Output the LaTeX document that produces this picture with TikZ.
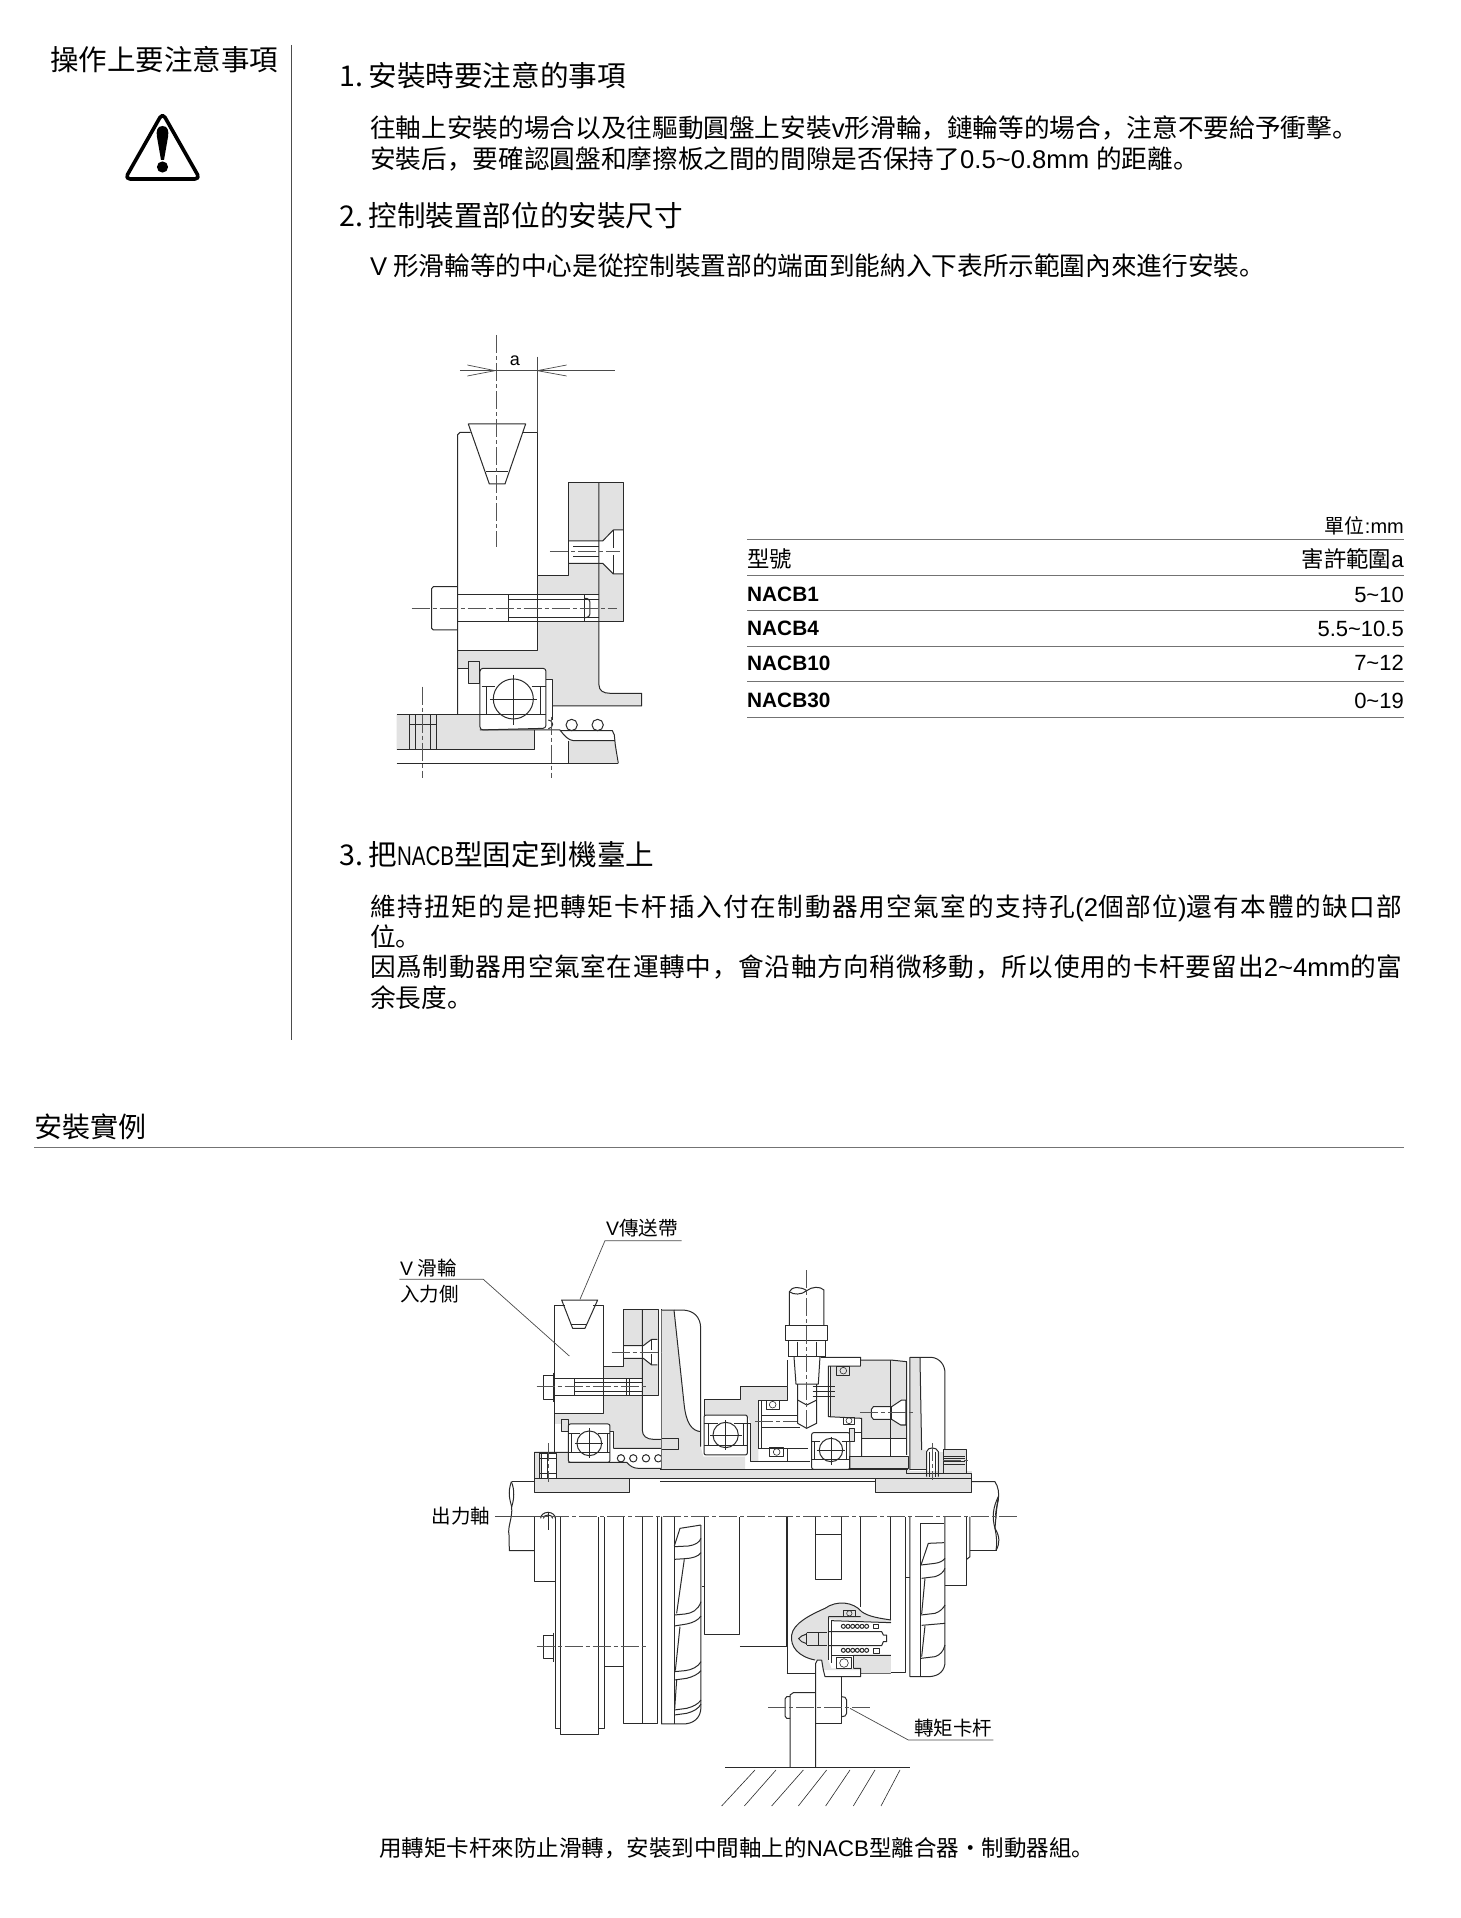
\documentclass[tikz,border=0pt]{standalone}
\usepackage{fontspec}
\setmainfont{Liberation Sans}
\newfontfamily\zh{Noto Sans CJK SC}
\usetikzlibrary{positioning}
\newcommand{\lat}[1]{{\rmfamily #1}}
\definecolor{inkline}{HTML}{2a2a2a}
\definecolor{partgray}{HTML}{e2e2e2}
\tikzset{
  fig one/.style={shift={(380,320)},x=.3333pt,y=-.3333pt},
  fig left/.style={shift={(380,1200)},x=.3333pt,y=-.3333pt},
  fig right/.style={shift={(660,1260)},x=.3333pt,y=-.3333pt},
  fig low/.style={shift={(500,1500)},x=.3333pt,y=-.3333pt},
  fig arm/.style={shift={(740,1500)},x=.3333pt,y=-.3333pt}
}
\begin{document}
\begin{tikzpicture}[x=1pt,y=-1pt,line join=round,
  part/.style={draw=inkline,line width=1pt},
  fine/.style={draw=inkline,line width=.6pt},
  shade/.style={fill=partgray},
  axis line/.style={draw=inkline!80,line width=.6pt,dash pattern=on 18pt off 3pt on 4pt off 3pt},
  leader/.style={draw=inkline!85,line width=.7pt},
  rule/.style={draw=black!55,line width=1pt},
  head text/.style={anchor=west,inner sep=0pt,font=\zh\fontsize{28.6}{30}\selectfont},
  body text/.style={anchor=west,inner sep=0pt,font=\zh\fontsize{25.65}{28}\selectfont},
  cell text/.style={anchor=west,inner sep=0pt,font=\zh\fontsize{22.4}{24}\selectfont},
  num text/.style={anchor=east,inner sep=0pt,font=\fontsize{22}{24}\selectfont},
  bold text/.style={anchor=west,inner sep=0pt,font=\bfseries\fontsize{20.8}{22}\selectfont},
  call text/.style={anchor=west,inner sep=0pt,font=\zh\fontsize{19.5}{22}\selectfont}]
  \useasboundingbox (0,0) rectangle (1460,1918);
  \fill[white] (0,0) rectangle (1460,1918);

  % left column
  \node[head text,font=\zh\fontsize{28.5}{30}\selectfont] (caution) at (50,60) {操作上要注意事項};
  \draw[rule,draw=black!70] (291,45) -- (291,1040);
  \draw[draw=black,line width=3.6pt,rounded corners=5pt] (162.5,113) -- (125,179) -- (200,179) -- cycle;
  \fill (162.5,126) .. controls (157,126) and (156,131) .. (157,137) -- (161,160) -- (164,160) -- (168,137) .. controls (169,131) and (168,126) .. (162.5,126) -- cycle;
  \fill (162.5,167) circle (5.6pt);

  % text
  \node[head text] (title1) at (339,76) {1.\hspace*{5.5pt}\zh 安裝時要注意的事項};
  \node[body text] (text1a) at (370,127.5) {往軸上安裝的場合以及往驅動圓盤上安裝\lat{v}形滑輪，鏈輪等的場合，注意不要給予衝擊。};
  \node[body text] (text1b) at (370,159) {安裝后，要確認圓盤和摩擦板之間的間隙是否保持了\lat{0.5\raisebox{.5pt}{\textasciitilde}0.8mm }的距離。};
  \node[head text] (title2) at (339,216) {2.\hspace*{5.5pt}\zh 控制裝置部位的安裝尺寸};
  \node[body text] (text2) at (370,266) {\lat{V} 形滑輪等的中心是從控制裝置部的端面到能納入下表所示範圍內來進行安裝。};
  \node[head text] (title3) at (339,854.5) {3.\hspace*{5.5pt}\zh 把\scalebox{.76}[1]{\rmfamily\fontsize{27}{28}\selectfont NACB}型固定到機臺上};
  \node[body text] (text3a) at (370,908.5) {\addfontfeature{LetterSpace=5.95}維持扭矩的是把轉矩卡杆插入付在制動器用空氣室的支持孔\lat{(2}個部位\lat{)}還有本體的缺口部};
  \node[body text] (text3b) at (370,936.5) {位。};
  \node[body text] (text3c) at (370,967) {\addfontfeature{LetterSpace=2.55}因爲制動器用空氣室在運轉中，會沿軸方向稍微移動，所以使用的卡杆要留出\lat{2\raisebox{.5pt}{\textasciitilde}4mm}的富};
  \node[body text] (text3d) at (370,998) {余長度。};

  % table
  \node[num text,font=\zh\fontsize{20}{22}\selectfont] (unit) at (1404,525.6) {單位\lat{:mm}};
  \node[cell text] (model) at (747,558.8) {型號};
  \node[num text,font=\zh\fontsize{22.4}{24}\selectfont] (range) at (1404,558.8) {害許範圍\lat{a}};
  \foreach \y/\name/\val in {594.8/NACB1/5\textasciitilde10,628.6/NACB4/5.5\textasciitilde10.5,663/NACB10/7\textasciitilde12,700.6/NACB30/0\textasciitilde19}{
    \node[bold text] (m\name) at (747,\y) {\name};
    \node[num text] (v\name) at (1404,\y) {\val};
  }
  \foreach \y in {539.3,575,610,646,681,717}
    \draw[rule] (747,\y) -- (1404,\y);

  % first drawing
  \begin{scope}[fig one]
    \fill[shade] (472,767) -- (565,767) -- (565,487) -- (732,487) -- (732,905) -- (657,905) -- (657,1095) .. controls (657,1112) and (670,1120) .. (690,1120) -- (785,1120) -- (785,1158) -- (518,1158) -- (518,1078) -- (498,1078) -- (498,1045) -- (233,1045) -- (233,992) -- (472,992) -- cycle;
    \fill[shade] (50,1183) -- (300,1183) -- (300,1230) -- (463,1230) -- (463,1290) -- (50,1290) -- cycle;
    \fill[shade] (567,1262) -- (705,1262) -- (712,1330) -- (567,1330) -- cycle;
    \fill[shade] (265,1025) rectangle (300,1090);
    \fill[white] (567,663) -- (668,663) -- (700,630) -- (730,630) -- (730,762) -- (700,762) -- (668,730) -- (567,730) -- cycle;
    \fill[white] (472,825) rectangle (657,905);
    \fill[white] (657,838) rectangle (615,893);
    % pulley and belt
    \draw[part] (272,337) -- (240,337) -- (233,344) -- (233,1183);
    \draw[part] (430,337) -- (472,337) -- (472,767) -- (565,767) -- (565,487) -- (732,487) -- (732,905) -- (233,905);
    \draw[part] (472,767) -- (472,992) -- (233,992);
    \draw[part] (265,312) -- (437,312) -- (375,492) -- (328,492) -- cycle;
    \draw[part] (318,455) -- (385,455);
    % flange
    \draw[part] (657,487) -- (657,1095) .. controls (657,1112) and (670,1120) .. (690,1120) -- (785,1120) -- (785,1158) -- (518,1158);
    % countersunk screw
    \draw[part] (567,663) -- (668,663) -- (700,630) -- (730,630);
    \draw[part] (567,730) -- (668,730) -- (700,762) -- (730,762);
    \draw[part] (567,660) -- (567,732);
    \draw[part] (700,630) -- (700,685) (700,705) -- (700,762);
    \draw[fine] (580,680) -- (657,680) (580,708) -- (657,708);
    % bolt
    \draw[part] (233,800) -- (160,800) -- (155,806) -- (155,925) -- (160,930) -- (233,930);
    \draw[part] (233,825) -- (657,825);
    \draw[part] (385,825) -- (385,905) (615,825) -- (615,905);
    \draw[fine] (385,838) -- (657,838) (385,893) -- (657,893);
    \draw[part] (615,835) .. controls (625,835) and (630,840) .. (630,850) -- (630,878) .. controls (630,888) and (625,893) .. (615,893);
    % bearing
    \draw[part,rounded corners=3pt] (300,1045) -- (498,1045) -- (498,1225) -- (300,1230) -- cycle;
    \draw[part] (265,1025) rectangle (300,1090);
    \draw[part] (233,1045) -- (265,1045);
    \draw[part] (300,1183) -- (50,1183);
    \draw[part] (300,1183) -- (498,1183);
    \draw[fine] (305,1098) -- (345,1098) (455,1098) -- (498,1098);
    \draw[fine] (318,1098) -- (318,1183) (480,1098) -- (480,1183);
    \draw[part] (400,1137) circle (60);
    \draw[fine] (400,1065) -- (400,1215) (330,1137) -- (470,1137);
    \draw[part] (498,1078) -- (518,1078) -- (518,1200);
    \draw[part] (505,1200) arc (-90:90:13);
    \draw[part] (575,1215) circle (17) (653,1215) circle (17);
    % shaft and hub
    \draw[part] (50,1290) -- (463,1290) -- (463,1230);
    \draw[part] (300,1230) -- (540,1230) .. controls (555,1250) and (565,1260) .. (580,1262) -- (705,1262);
    \draw[part] (540,1232) -- (697,1232) -- (703,1245) -- (706,1275) -- (710,1300) -- (715,1330);
    \draw[part] (567,1262) -- (567,1330);
    \draw[part] (50,1330) -- (715,1330);
    \draw[part] (88,1183) -- (88,1290) (105,1183) -- (105,1290) (150,1183) -- (150,1290) (168,1183) -- (168,1290);
    \draw[part] (88,1213) -- (168,1213);
    % axes and dimension
    \draw[axis line] (348,45) -- (348,680);
    \draw[axis line] (510,695) -- (720,695);
    \draw[axis line] (95,865) -- (710,865);
    \draw[axis line] (128,1100) -- (128,1375);
    \draw[axis line] (514,1190) -- (514,1375);
    \draw[leader] (472,110) -- (472,337);
    \coordinate (dim left) at (345,152);
    \coordinate (dim right) at (472,152);
    \draw[leader] (240,152) -- (dim left) -- (dim right) -- (705,152);
    \draw[leader] (262,135) -- (dim left) -- (262,168);
    \draw[leader] (560,135) -- (dim right) -- (560,168);
    \node[inner sep=0pt,font=\fontsize{18}{20}\selectfont] (dim a) at (405,122) {a};
  \end{scope}

  % section rule
  \node[head text,font=\zh\fontsize{28}{30}\selectfont] (example) at (34,1127) {安裝實例};
  \draw[rule] (34,1147) -- (1404,1147);

  % second drawing, upper left
  \begin{scope}[fig left]
    \fill[shade] (525,640) -- (672,640) -- (672,500) -- (730,500) -- (730,327) -- (835,327) -- (835,587) -- (787,587) -- (787,690) .. controls (787,708) and (800,718) .. (820,718) -- (865,718) -- (865,745) -- (700,745) -- (700,695) -- (690,695) -- (690,672) -- (525,672) -- cycle;
    \fill[shade] (530,757) -- (565,757) -- (565,787) -- (740,787) .. controls (750,798) and (760,805) .. (775,805) -- (900,805) -- (900,835) -- (530,835) -- cycle;
    \fill[shade] (463,835) rectangle (750,877);
    \fill[shade] (463,757) rectangle (485,835);
    \fill[shade] (545,660) rectangle (565,695);
    \fill[white] (730,437) -- (790,437) -- (815,418) -- (832,418) -- (832,495) -- (815,495) -- (790,475) -- (730,475) -- cycle;
    \fill[white] (672,537) rectangle (787,587);
    % pulley and belt
    \draw[part] (555,315) -- (525,315) -- (525,757);
    \draw[part] (640,315) -- (672,315) -- (672,640) -- (525,640);
    \draw[part] (672,500) -- (730,500) -- (730,327) -- (835,327) -- (835,587) -- (525,587);
    \draw[part] (787,327) -- (787,690) .. controls (787,708) and (800,718) .. (820,718) -- (865,718) -- (865,745) -- (700,745);
    \draw[part] (545,300) -- (653,300) -- (615,385) -- (578,385) -- cycle;
    \draw[part] (572,372) -- (620,372);
    % screw and bolt
    \draw[part] (730,437) -- (790,437) -- (815,418) -- (832,418) (730,475) -- (790,475) -- (815,495) -- (832,495);
    \draw[part] (730,437) -- (730,475) (815,418) -- (815,450) (815,462) -- (815,495);
    \draw[part] (520,518) -- (520,605) (490,528) rectangle (520,600);
    \draw[part] (525,537) -- (787,537);
    \draw[part] (585,537) -- (585,587) (740,537) -- (740,587) (748,537) -- (748,587);
    \draw[fine] (585,548) -- (787,548) (585,575) -- (787,575);
    % bearing
    \draw[part,rounded corners=2pt] (565,672) rectangle (690,787);
    \draw[part] (545,660) rectangle (565,695);
    \draw[part] (565,757) -- (690,757);
    \draw[fine] (565,700) -- (600,700) (655,700) -- (690,700) (575,700) -- (575,757) (682,700) -- (682,757);
    \draw[part] (628,730) circle (37);
    \draw[fine] (628,685) -- (628,775) (585,730) -- (670,730);
    \draw[part] (690,695) -- (700,695) -- (700,745);
    \foreach \ballx in {723,760,798,835}
      \draw[part] (\ballx,775) circle (11);
    \draw[part] (845,327) -- (845,805);
    % hub
    \draw[part] (463,757) -- (565,757) (565,787) -- (740,787) .. controls (750,798) and (760,805) .. (775,805) -- (900,805);
    \draw[part] (463,757) -- (463,877) -- (750,877) -- (750,835);
    \draw[part] (463,835) -- (900,835) (463,845) -- (395,845);
    \draw[part] (480,760) rectangle (530,835);
    \draw[part] (503,760) -- (503,835) (485,760) -- (485,835) (480,775) -- (530,775) (480,820) -- (530,820);
    % axes
    \draw[axis line] (695,456) -- (858,456);
    \draw[axis line] (470,560) -- (800,560);
    \draw[axis line] (505,730) -- (505,845);
  \end{scope}

  % second drawing, upper right
  \begin{scope}[fig right]
    \fill[shade] (5,150) -- (42,150) -- (72,430) .. controls (78,490) and (95,512) .. (122,515) -- (122,560) -- (130,590) -- (255,590) -- (255,628) -- (5,628) -- cycle;
    \fill[shade] (132,418) -- (240,418) -- (240,380) -- (382,380) -- (382,420) -- (295,420) -- (295,605) -- (272,605) -- (272,490) -- (262,465) -- (132,465) -- cycle;
    \fill[shade] (510,320) -- (605,320) -- (605,300) -- (692,300) -- (740,305) -- (740,537) -- (605,537) -- (605,475) -- (510,470) -- cycle;
    \fill[shade] (570,590) rectangle (745,625);
    \fill[shade] (0,628) rectangle (750,657);
    \fill[shade] (648,657) rectangle (935,697);
    \fill[shade] (750,292) -- (780,292) -- (785,570) -- (800,570) -- (800,630) -- (750,630) -- cycle;
    \fill[shade] (835,575) rectangle (852,635);
    \fill[shade] (852,568) rectangle (920,640);
    \fill[shade] (740,632) rectangle (935,657);
    \fill[white] (635,440) -- (695,440) -- (725,420) -- (738,420) -- (738,495) -- (722,495) -- (695,478) -- (635,478) -- cycle;
    % disc on the input side
    \draw[part] (5,150) -- (65,150) .. controls (100,150) and (122,170) .. (122,205) -- (122,560);
    \draw[part] (42,150) -- (72,430) .. controls (78,490) and (95,512) .. (122,515);
    \draw[part] (5,535) -- (55,535) -- (55,570) -- (5,570);
    % pipe and fitting
    \draw[part] (388,197) -- (388,95) .. controls (395,78) and (425,80) .. (440,92) .. controls (455,80) and (480,78) .. (492,90) -- (492,197);
    \draw[part] (388,95) .. controls (400,105) and (425,105) .. (440,92);
    \draw[part] (378,197) rectangle (502,242);
    \draw[part] (385,242) -- (385,290) (497,242) -- (497,290) (412,245) -- (412,290) (470,245) -- (470,290);
    \draw[part] (385,288) -- (497,288);
    \draw[part] (402,290) -- (408,372) -- (475,372) -- (480,290);
    \draw[part] (413,372) -- (413,490) -- (440,505) -- (470,490) -- (470,372);
    \draw[part] (413,420) -- (440,435) -- (470,420);
    % housing
    \draw[part] (482,292) -- (602,292) -- (602,318) -- (505,318) -- (505,470) -- (605,475) -- (605,590);
    \draw[part] (512,318) -- (512,470);
    \draw[part] (132,465) -- (132,418) -- (240,418) -- (240,380) -- (382,380) -- (382,300);
    \draw[part] (382,380) -- (382,420) -- (295,420) -- (295,565);
    \draw[part] (305,420) -- (305,565) (295,565) -- (445,565);
    \draw[part] (305,465) -- (413,465) (305,503) -- (420,503);
    \draw[part] (272,490) -- (272,605) -- (450,605);
    \draw[part] (382,565) -- (382,605);
    \draw[part] (602,300) -- (692,300) -- (740,305) -- (740,585);
    \draw[part] (692,300) -- (692,590);
    \draw[part] (605,537) -- (740,537);
    \draw[part] (570,590) rectangle (745,625);
    % small bearings
    \draw[part] (318,420) rectangle (358,448);
    \draw[fine] (338,434) circle (10);
    \draw[part] (330,562) rectangle (370,590);
    \draw[fine] (350,576) circle (10);
    \draw[part] (530,320) rectangle (570,345);
    \draw[fine] (550,332) circle (10);
    \draw[part] (550,472) rectangle (585,492);
    \draw[fine] (567,482) circle (9);
    % screw
    \draw[part] (640,440) -- (695,440) -- (725,420) -- (738,420) -- (738,495) -- (722,495) -- (695,478) -- (640,478) -- (634,470) -- (634,448) -- cycle;
    \draw[part] (695,440) -- (695,478);
    % bearings
    \draw[part,rounded corners=2pt] (132,465) rectangle (262,585);
    \draw[part] (132,490) -- (175,490) (222,490) -- (262,490) (132,558) -- (262,558) (145,490) -- (145,558) (250,490) -- (250,558);
    \draw[part] (197,525) circle (38);
    \draw[fine] (197,480) -- (197,570) (150,525) -- (245,525);
    \draw[part] (262,490) -- (272,490);
    \draw[part,rounded corners=2pt] (455,518) rectangle (570,628);
    \draw[part] (455,600) -- (570,600) (465,545) -- (465,600) (560,545) -- (560,600) (455,545) -- (480,545) (545,545) -- (570,545);
    \draw[part] (513,570) circle (35);
    \draw[fine] (513,530) -- (513,615) (470,570) -- (555,570);
    \draw[part,shade] (570,505) rectangle (585,545);
    \draw[part] (585,518) -- (604,518);
    % strips and shaft
    \draw[part] (0,628) -- (745,628);
    \draw[part] (0,657) -- (648,657) (0,665) -- (648,665);
    \draw[part] (648,657) rectangle (935,697);
    \draw[part] (935,665) -- (1005,665) .. controls (1015,680) and (1018,700) .. (1015,720) .. controls (1010,745) and (1005,755) .. (1008,775);
    % disc on the output side
    \draw[part] (750,630) -- (750,292) -- (815,292) .. controls (840,295) and (855,315) .. (855,340) -- (855,570);
    \draw[part] (780,292) -- (785,570);
    \draw[part] (750,630) -- (800,630);
    \draw[part] (800,650) -- (800,575) .. controls (803,560) and (830,560) .. (835,575) -- (835,650);
    \draw[fine] (808,575) -- (808,650) (827,575) -- (827,650);
    \draw[part] (852,568) rectangle (920,640);
    \draw[part] (852,590) -- (915,590) (852,597) -- (915,597) (852,606) -- (915,606) (852,615) -- (915,615);
    \draw[part] (740,630) -- (740,642) -- (935,642) -- (935,657);
    % axes
    \draw[axis line] (440,30) -- (440,510);
    \draw[axis line] (285,483) -- (410,483);
    \draw[fine] (458,380) -- (525,380) (458,395) -- (525,395) (458,410) -- (525,410);
    \draw[axis line] (600,458) -- (762,458);
    \draw[axis line] (850,602) -- (930,602);
    \draw[axis line] (817,550) -- (817,660);
  \end{scope}

  % left break of the shaft
  \begin{scope}[fig low]
    \draw[part] (34,-55) .. controls (22,-20) and (30,0) .. (35,20) .. controls (38,55) and (22,80) .. (27,105) -- (28,152) -- (103,152);
    \draw[part] (34,-55) .. controls (45,-30) and (42,0) .. (35,20);
    % lower half, left part
    \draw[part] (103,50) -- (103,243) -- (165,243);
    \draw[part] (165,50) -- (165,685) -- (180,685);
    \draw[part] (180,50) -- (180,703) -- (297,703) -- (297,50);
    \draw[part] (297,685) -- (313,685) -- (313,50);
    \draw[part] (313,500) -- (370,500);
    \draw[part] (370,50) -- (370,672) -- (473,672) -- (473,50);
    \draw[part] (427,50) -- (427,672);
    \draw[part] (485,50) -- (485,672) -- (548,672) .. controls (580,672) and (603,655) .. (603,620) -- (603,75);
    \draw[part] (523,50) -- (523,672);
    \draw[part] (613,50) -- (613,403) -- (720,403) -- (720,50);
    \draw[part] (605,260) -- (613,260);
    \draw[part] (720,438) -- (862,438);
    \draw[part] (862,50) -- (862,520);
    % fins
    \draw[part] (523,138) -- (540,85) -- (603,75);
    \draw[part] (523,140) -- (565,138) .. controls (585,135) and (598,128) .. (603,115);
    \draw[part] (523,178) -- (555,176) .. controls (575,175) and (595,170) .. (603,158);
    \draw[part] (553,178) -- (530,340);
    \draw[part] (523,345) -- (555,342) .. controls (575,340) and (595,330) .. (603,305);
    \draw[part] (523,378) -- (560,372) .. controls (580,368) and (595,360) .. (603,348);
    \draw[part] (540,380) -- (526,512);
    \draw[part] (523,515) -- (555,512) .. controls (575,510) and (595,500) .. (603,485);
    \draw[part] (523,540) -- (560,535) .. controls (580,530) and (595,522) .. (603,512);
    \draw[part] (530,540) -- (524,628);
    \draw[part] (523,630) -- (560,625) .. controls (580,620) and (595,612) .. (603,600);
    \draw[part] (523,645) -- (560,640) .. controls (580,635) and (597,625) .. (603,612);
    % bolt and ring
    \draw[part] (160,405) -- (130,405) -- (130,475) -- (160,475);
    \draw[part] (160,398) -- (160,485);
    \draw[part] (122,55) arc (180:360:22 and 18) (130,55) arc (180:360:14 and 10);
    \draw[fine] (146,35) -- (146,90);
    \draw[axis line] (110,440) -- (440,440);
  \end{scope}

  % lower half, right part
  \begin{scope}[fig arm]
    \draw[part] (0,438) -- (140,438) -- (140,50);
    \draw[part] (140,520) -- (225,520);
    \draw[part] (227,50) -- (227,238) -- (305,238) -- (305,50);
    \draw[part] (227,102) -- (305,102);
    \draw[part] (362,50) -- (362,322);
    \draw[part] (453,50) -- (453,520) -- (362,520);
    \draw[part] (453,518) -- (498,518) -- (498,50);
    \draw[part] (510,50) -- (510,530) -- (568,530) .. controls (600,528) and (615,510) .. (615,485) -- (615,50);
    \draw[part] (498,233) -- (510,233);
    \draw[part] (543,70) -- (612,70) (543,70) -- (543,528);
    \draw[part] (543,195) -- (565,130) -- (612,128);
    \draw[part] (543,195) -- (585,190) .. controls (600,188) and (610,182) .. (615,175);
    \draw[part] (545,235) -- (585,230) .. controls (600,225) and (610,218) .. (615,205);
    \draw[part] (555,235) -- (545,342);
    \draw[part] (543,345) -- (585,340) .. controls (600,335) and (610,325) .. (615,315);
    \draw[part] (545,376) -- (615,370);
    \draw[part] (555,378) -- (545,470);
    \draw[part] (543,475) -- (585,470) .. controls (600,465) and (610,455) .. (615,435);
    \draw[part] (680,50) -- (680,255) -- (615,255);
    \draw[part] (690,50) -- (690,170) -- (680,178);
    \draw[part] (690,152) -- (770,152);
    \draw[part] (775,-10) .. controls (760,20) and (755,50) .. (765,85) .. controls (770,110) and (772,130) .. (768,152);
    \draw[part] (775,-10) .. controls (770,20) and (768,50) .. (765,85) .. controls (780,110) and (780,130) .. (768,152);
    % air chamber
    \fill[shade] (225,480) .. controls (175,470) and (150,440) .. (155,405) .. controls (160,370) and (210,345) .. (255,325) .. controls (290,300) and (340,305) .. (365,335) .. controls (385,350) and (420,355) .. (453,360) -- (453,520) -- (362,520) -- (360,510) -- (250,510) -- (245,480) -- cycle;
    \fill[white] (265,358) -- (453,368) -- (453,462) -- (340,462) -- (340,505) -- (275,505) -- (265,480) -- cycle;
    \draw[part] (225,480) .. controls (175,470) and (150,440) .. (155,405) .. controls (160,370) and (210,345) .. (255,325) .. controls (290,300) and (340,305) .. (365,335) .. controls (385,350) and (420,355) .. (453,360);
    \draw[part] (265,350) -- (265,480) (275,360) -- (275,490);
    \draw[part] (265,350) -- (362,350) (275,362) -- (453,368);
    \draw[part] (265,395) -- (425,395) -- (430,405) -- (440,405) -- (440,425) -- (430,425) -- (425,437) -- (265,437);
    \draw[part] (275,465) -- (453,465) (340,465) -- (340,505);
    \draw[part] (200,398) -- (262,398) (200,435) -- (262,435) (200,398) -- (200,435) (235,398) -- (235,435);
    \draw[part] (200,402) -- (185,408) -- (176,416) -- (185,425) -- (200,431);
    \foreach \coilx in {310,324,338,352,366,380}{
      \draw[part] (\coilx,379) circle (6);
      \draw[part] (\coilx,451) circle (6);
    }
    \draw[part] (400,372) rectangle (416,385) (402,446) rectangle (418,459);
    \draw[part] (310,330) rectangle (345,350);
    \draw[fine] (328,340) circle (8);
    \draw[part] (290,473) rectangle (335,505);
    \draw[fine] (312,489) circle (13);
    % torque arm
    \draw[part] (245,480) -- (232,480) -- (227,490) -- (227,802);
    \draw[part] (245,480) -- (250,510) -- (255,530) -- (362,530) -- (362,505) -- (340,505);
    \draw[part] (305,530) -- (305,672) -- (227,672);
    \draw[part] (227,578) -- (160,578) -- (150,585) -- (150,802);
    \draw[part] (150,590) -- (140,590) -- (135,597) -- (135,648) -- (140,655) -- (150,655);
    \draw[part] (305,590) -- (315,592) -- (320,600) -- (320,640) -- (315,648) -- (305,650);
    \draw[axis line] (85,622) -- (395,622);
    % ground
    \draw[part] (-45,802) -- (510,802);
    \foreach \xa/\xb in {45/-55,108/13,190/95,260/175,330/257,405/340,480/423}
      \draw[fine] (\xa,810) -- (\xb,918);
    \coordinate (arm tip) at (330,625);
    \coordinate (arm bend) at (505,720);
    \coordinate (arm end) at (760,720);
    \draw[leader] (arm tip) -- (arm bend) -- (arm end);
    \node[call text,anchor=west] (arm label) at (522,684) {轉矩卡杆};
  \end{scope}

  % main axis
  \coordinate (axis west) at (495,1516.7);
  \coordinate (axis east) at (1017,1516.7);
  \draw[axis line] (axis west) -- (axis east);

  % call-outs of the second drawing
  \begin{scope}[fig left]
    \coordinate (pulley tip) at (568,468);
    \coordinate (pulley bend) at (310,238);
    \coordinate (pulley end) at (58,238);
    \draw[leader] (pulley end) -- (pulley bend) -- (pulley tip);
    \node[call text] (pulley a) at (60,205) {\lat{V} 滑輪};
    \node[call text] (pulley b) at (60,283) {入力側};
    \coordinate (belt tip) at (600,298);
    \coordinate (belt bend) at (675,122);
    \coordinate (belt end) at (905,122);
    \draw[leader] (belt tip) -- (belt bend) -- (belt end);
    \node[call text] (belt label) at (678,85) {\lat{V}傳送帶};
    \node[call text] (output) at (155,948) {出力軸};
    \coordinate (output end) at (345,950);
    \coordinate (output start) at (495,950);
    \draw[leader] (output end) -- (output start);
  \end{scope}

  \node[call text,font=\zh\fontsize{22.5}{24}\selectfont] (caption) at (379,1848.5) {用轉矩卡杆來防止滑轉，安裝到中間軸上的\lat{NACB}型離合器・制動器組。};
\end{tikzpicture}
\end{document}
